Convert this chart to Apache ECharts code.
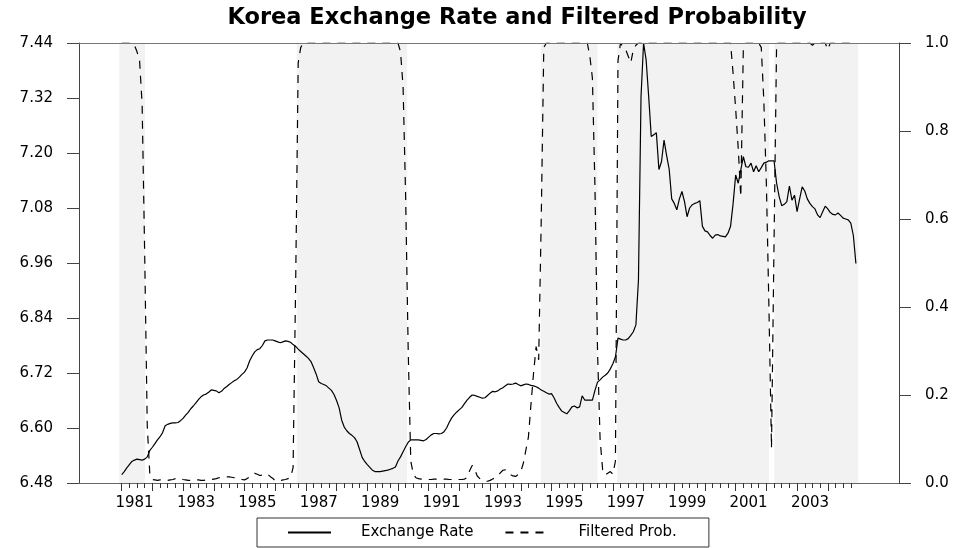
<!DOCTYPE html>
<html>
<head>
<meta charset="utf-8">
<script src="https://cdn.jsdelivr.net/npm/echarts@6/dist/echarts.min.js"></script>
<style>html,body{margin:0;padding:0;background:#fff}#c{width:959px;height:548px}</style>
</head>
<body>
<div id="c"></div>
<script>
// Monthly data, 1981:01 - 2004:12
const startYear = 1981;

// Log exchange rate (left axis)
const exchangeRate = [
  6.498, 6.505, 6.513, 6.520, 6.527, 6.530, 6.532, 6.531, 6.530, 6.532, 6.537, 6.551, // 1981
  6.558, 6.566, 6.574, 6.581, 6.590, 6.605, 6.608, 6.610, 6.611, 6.611, 6.612, 6.616, // 1982
  6.621, 6.628, 6.634, 6.642, 6.648, 6.655, 6.662, 6.668, 6.672, 6.674, 6.678, 6.683, // 1983
  6.682, 6.681, 6.677, 6.680, 6.686, 6.690, 6.695, 6.699, 6.703, 6.706, 6.711, 6.717, // 1984
  6.722, 6.731, 6.746, 6.757, 6.766, 6.771, 6.773, 6.780, 6.790, 6.792, 6.792, 6.792, // 1985
  6.790, 6.788, 6.786, 6.788, 6.790, 6.789, 6.787, 6.782, 6.778, 6.772, 6.767, 6.762, // 1986
  6.757, 6.752, 6.745, 6.732, 6.718, 6.701, 6.697, 6.695, 6.692, 6.687, 6.682, 6.673, // 1987
  6.660, 6.644, 6.617, 6.602, 6.594, 6.588, 6.584, 6.579, 6.570, 6.553, 6.536, 6.527, // 1988
  6.520, 6.514, 6.508, 6.505, 6.505, 6.505, 6.506, 6.507, 6.508, 6.510, 6.512, 6.515, // 1989
  6.528, 6.537, 6.548, 6.559, 6.569, 6.574, 6.574, 6.574, 6.574, 6.573, 6.572, 6.575, // 1990
  6.580, 6.585, 6.588, 6.588, 6.587, 6.588, 6.592, 6.600, 6.612, 6.622, 6.629, 6.635, // 1991
  6.640, 6.645, 6.653, 6.661, 6.667, 6.672, 6.671, 6.669, 6.667, 6.665, 6.666, 6.671, // 1992
  6.676, 6.680, 6.679, 6.681, 6.685, 6.688, 6.692, 6.696, 6.695, 6.696, 6.698, 6.695, // 1993
  6.692, 6.694, 6.696, 6.695, 6.693, 6.692, 6.690, 6.687, 6.683, 6.680, 6.677, 6.674, // 1994
  6.675, 6.666, 6.654, 6.645, 6.637, 6.634, 6.631, 6.638, 6.646, 6.648, 6.644, 6.646, // 1995
  6.670, 6.661, 6.661, 6.661, 6.661, 6.682, 6.700, 6.705, 6.711, 6.715, 6.720, 6.729, // 1996
  6.740, 6.755, 6.796, 6.794, 6.792, 6.792, 6.795, 6.802, 6.810, 6.825, 6.923, 7.323, // 1997
  7.440, 7.403, 7.323, 7.236, 7.240, 7.244, 7.164, 7.181, 7.228, 7.195, 7.165, 7.100, // 1998
  7.090, 7.076, 7.100, 7.116, 7.094, 7.061, 7.080, 7.087, 7.090, 7.092, 7.096, 7.040, // 1999
  7.030, 7.028, 7.020, 7.014, 7.021, 7.022, 7.019, 7.018, 7.017, 7.025, 7.040, 7.090, // 2000
  7.152, 7.134, 7.163, 7.192, 7.170, 7.169, 7.178, 7.159, 7.172, 7.159, 7.168, 7.178, // 2001
  7.180, 7.183, 7.183, 7.183, 7.134, 7.105, 7.085, 7.088, 7.094, 7.128, 7.097, 7.108, // 2002
  7.072, 7.100, 7.126, 7.117, 7.100, 7.090, 7.083, 7.078, 7.065, 7.059, 7.072, 7.084, // 2003
  7.078, 7.070, 7.066, 7.065, 7.069, 7.064, 7.058, 7.056, 7.054, 7.047, 7.020, 6.959  // 2004
];

// Filtered probability (right axis)
const filteredProb = [
  1, 1, 1, 1, 1, 0.995, 0.98, 0.96, 0.86, 0.52, 0.13, 0.02,                                   // 1981
  0.008, 0.007, 0.006, 0.007, 0.007, 0.006, 0.006, 0.007, 0.008, 0.010, 0.011, 0.010,         // 1982
  0.008, 0.007, 0.006, 0.006, 0.007, 0.007, 0.007, 0.006, 0.006, 0.007, 0.008, 0.008,         // 1983
  0.009, 0.010, 0.012, 0.013, 0.014, 0.014, 0.014, 0.013, 0.012, 0.011, 0.009, 0.008,         // 1984
  0.007, 0.010, 0.014, 0.018, 0.022, 0.020, 0.017, 0.018, 0.021, 0.020, 0.015, 0.011,         // 1985
  0.005, 0.004, 0.005, 0.007, 0.008, 0.010, 0.012, 0.035, 0.45, 0.955, 0.99, 1,               // 1986
  1, 1, 1, 1, 1, 1, 1, 1, 1, 1, 1, 1,                                                         // 1987
  1, 1, 1, 1, 1, 1, 1, 1, 1, 1, 1, 1,                                                         // 1988
  1, 1, 1, 1, 1, 1, 1, 1, 1, 1, 1, 1,                                                         // 1989
  1, 0.98, 0.90, 0.65, 0.30, 0.05, 0.020, 0.012, 0.010, 0.009, 0.008, 0.008,                  // 1990
  0.008, 0.008, 0.009, 0.009, 0.010, 0.010, 0.009, 0.009, 0.008, 0.008, 0.008, 0.008,         // 1991
  0.008, 0.008, 0.009, 0.012, 0.028, 0.040, 0.030, 0.016, 0.010, 0.006, 0.004, 0.004,         // 1992
  0.006, 0.009, 0.012, 0.017, 0.023, 0.029, 0.030, 0.025, 0.019, 0.016, 0.015, 0.019,         // 1993
  0.026, 0.045, 0.075, 0.105, 0.18, 0.25, 0.31, 0.28, 0.60, 0.99, 1, 1,                       // 1994
  1, 1, 1, 1, 1, 1, 1, 1, 1, 1, 1, 1,                                                         // 1995
  1, 1, 1, 0.97, 0.92, 0.67, 0.30, 0.10, 0.030, 0.018, 0.022, 0.026,                          // 1996
  0.020, 0.05, 0.96, 1, 0.99, 0.985, 0.97, 0.955, 0.985, 0.995, 1, 1,                         // 1997
  1, 1, 1, 1, 1, 1, 1, 1, 1, 1, 1, 1,                                                         // 1998
  1, 1, 1, 1, 1, 1, 1, 1, 1, 1, 1, 1,                                                         // 1999
  1, 1, 1, 1, 1, 1, 1, 1, 1, 1, 1, 0.93,                                                      // 2000
  0.85, 0.76, 0.65, 0.99, 1, 1, 1, 1, 1, 1, 0.99, 0.87,                                       // 2001
  0.68, 0.40, 0.08, 0.55, 1, 1, 1, 1, 1, 1, 1, 1,                                             // 2002
  1, 1, 1, 1, 1, 1, 0.995, 1, 1, 1, 1, 1,                                                     // 2003
  0.985, 1, 1, 1, 1, 1, 1, 1, 1, 1, 1, 1                                                      // 2004
];

// Shaded regime periods (decimal years)
const regimeBands = [
  [1980.92, 1981.76],
  [1986.70, 1990.30],
  [1994.65, 1996.50],
  [1997.14, 2002.09],
  [2002.26, 2004.99]
];

// Tick / label definitions
const majorTickYears = [1981,1982,1983,1984,1985,1986,1987,1988,1989,1990,1991,1992,
                        1993,1994,1995,1996,1997,1998,1999,2000,2001,2002,2003,2004];
const labelYears = [1981,1983,1985,1987,1989,1991,1993,1995,1997,1999,2001,2003];
const leftAxisRange = [6.48, 7.44, 0.12];
const rightAxisRange = [0, 1, 0.2];

const xMin = 1979.61, xMax = 2006.32;
const labelOffset = 0.42;
const quarterTicks = [];
majorTickYears.forEach(y => [0.25, 0.5, 0.75].forEach(q => quarterTicks.push(y + q)));

const dates = exchangeRate.map((_, i) => startYear + i / 12);
const rateData = dates.map((d, i) => [d, exchangeRate[i]]);
const probData = dates.map((d, i) => [d, filteredProb[i]]);

const FONT = 'DejaVu Sans';
const chart = echarts.init(document.getElementById('c'), null, {renderer: 'canvas'});

const baseX = {
  type: 'value', min: xMin, max: xMax, z: 10,
  splitLine: {show: false}
};

chart.setOption({
  animation: false,
  backgroundColor: '#fff',
  title: {
    text: 'Korea Exchange Rate and Filtered Probability',
    left: 517, top: 7, padding: 0, textAlign: 'center',
    textStyle: {fontFamily: FONT, fontWeight: 'bold', fontSize: 22.5, color: '#000'}
  },
  grid: {left: 79, right: 60, top: 43, bottom: 65, containLabel: false},
  legend: {
    left: 257, top: 518,
    data: ['Exchange Rate', 'Filtered Prob.'],
    itemWidth: 43, itemHeight: 14, itemGap: 31,
    padding: [7, 32, 7, 30],
    borderColor: '#333', borderWidth: 1, borderRadius: 0,
    selectedMode: false,
    itemStyle: {opacity: 0},
    textStyle: {fontFamily: FONT, fontSize: 15, color: '#000', padding: [0, 0, 0, 25], lineHeight: 14}
  },
  xAxis: [
    Object.assign({}, baseX, {
      position: 'bottom',
      axisLine: {show: true, onZero: false, lineStyle: {color: '#666', width: 1}},
      axisTick: {show: true, inside: false, length: 8, customValues: majorTickYears, lineStyle: {color: '#333'}},
      axisLabel: {show: true, customValues: labelYears.map(y => y + labelOffset),
        formatter: v => String(Math.round(v - labelOffset)),
        margin: 13, fontFamily: FONT, fontSize: 15, color: '#000'}
    }),
    Object.assign({}, baseX, {
      position: 'bottom',
      axisLine: {show: false},
      axisTick: {show: true, inside: false, length: 5, customValues: quarterTicks, lineStyle: {color: '#333'}},
      axisLabel: {show: false}
    }),
    Object.assign({}, baseX, {
      position: 'top',
      axisLine: {show: true, onZero: false, lineStyle: {color: '#777', width: 1}},
      axisTick: {show: false},
      axisLabel: {show: false}
    })
  ],
  yAxis: [
    {
      type: 'value', position: 'left', z: 10,
      min: leftAxisRange[0], max: leftAxisRange[1], interval: leftAxisRange[2],
      axisLine: {show: true, lineStyle: {color: '#444', width: 1}},
      axisTick: {show: true, inside: false, length: 12, lineStyle: {color: '#444'}},
      axisLabel: {formatter: v => v.toFixed(2), margin: 26, fontFamily: FONT, fontSize: 15, color: '#000'},
      splitLine: {show: false}
    },
    {
      type: 'value', position: 'right', z: 10,
      min: rightAxisRange[0], max: rightAxisRange[1], interval: rightAxisRange[2],
      axisLine: {show: true, lineStyle: {color: '#444', width: 1}},
      axisTick: {show: true, inside: false, length: 12, lineStyle: {color: '#444'}},
      axisLabel: {formatter: v => v.toFixed(1), margin: 26, fontFamily: FONT, fontSize: 15, color: '#000'},
      splitLine: {show: false}
    }
  ],
  series: [
    {
      name: 'bands', type: 'line', xAxisIndex: 0, yAxisIndex: 0, z: 1,
      data: [], symbol: 'none', silent: true,
      markArea: {
        silent: true,
        itemStyle: {color: '#f2f2f2'},
        data: regimeBands.map(b => [{xAxis: b[0]}, {xAxis: b[1]}])
      }
    },
    {
      name: 'Exchange Rate', type: 'line', xAxisIndex: 0, yAxisIndex: 0, z: 3,
      data: rateData, symbol: 'none', smooth: false,
      lineStyle: {color: '#000', width: 1.2}, itemStyle: {color: '#000'}
    },
    {
      name: 'Filtered Prob.', type: 'line', xAxisIndex: 0, yAxisIndex: 1, z: 3,
      data: probData, symbol: 'none', smooth: false,
      lineStyle: {color: '#000', width: 1.2, type: [8, 7]}, itemStyle: {color: '#000'}
    }
  ]
});
</script>
</body>
</html>
